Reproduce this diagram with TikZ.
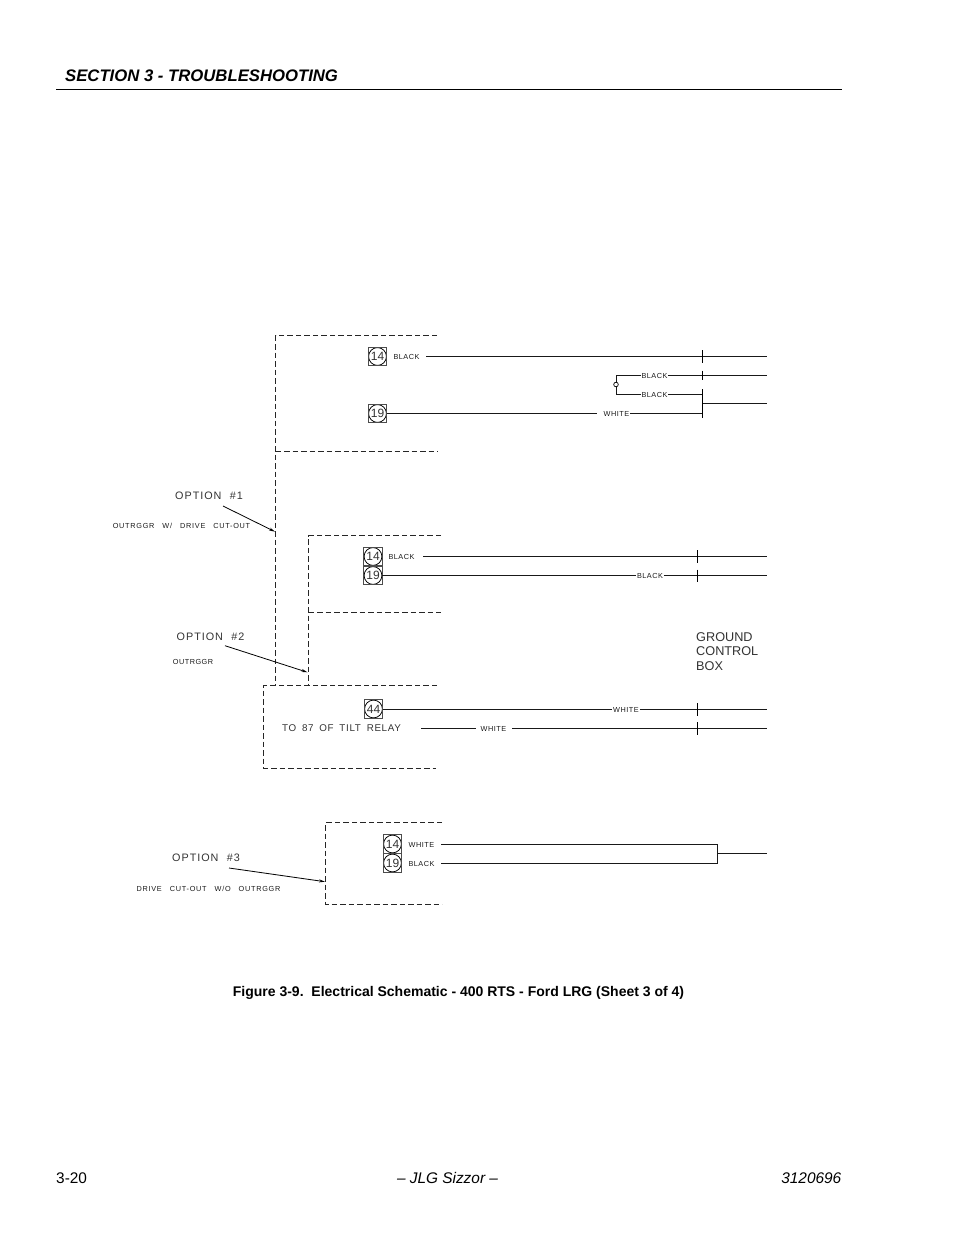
\documentclass[tikz,border=0pt]{standalone}
\usepackage{fontspec}
\setmainfont{Liberation Sans}
\newfontfamily\cadfont[LetterSpace=7,WordSpace=2.4]{Liberation Sans}
\newfontfamily\longfont[LetterSpace=10,WordSpace=2.9]{Liberation Sans}
\newfontfamily\optfont[LetterSpace=9,WordSpace=2.1]{Liberation Sans}
\newfontfamily\relfont[LetterSpace=7,WordSpace=1.7]{Liberation Sans}
\usetikzlibrary{arrows.meta}
\definecolor{wire}{gray}{0.1}
\definecolor{dash}{gray}{0.15}
\tikzset{
  x=1pt,y=-1pt,
  wireline/.style={draw=wire,line width=0.8pt},
  tickline/.style={draw=black,line width=0.8pt},
  dashbox/.style={draw=dash,line width=0.85pt,dash pattern=on 5.5pt off 3pt},
  leader/.style={draw=black,line width=0.8pt,-{Stealth[length=6pt,width=3pt]}},
  tiny/.style={inner sep=0pt,outer sep=1pt,font=\cadfont\fontsize{7.3}{8}\selectfont,text=black!90},
  longlabel/.style={inner sep=0pt,font=\longfont\fontsize{7.3}{8}\selectfont,text=black!90},
  optlabel/.style={inner sep=0pt,font=\optfont\fontsize{10.8}{11}\selectfont,text=black!80},
  rellabel/.style={inner sep=0pt,font=\relfont\fontsize{9.8}{11}\selectfont,text=black!80},
  termbox/.style={draw=black!70,line width=0.7pt,minimum size=18.5pt,inner sep=0pt,outer sep=0pt,
    path picture={\draw[black,line width=0.75pt] (path picture bounding box.center) circle (8.9pt);},
    font=\fontsize{12}{13}\selectfont,text=black!80},
  hdr/.style={inner sep=0pt,anchor=base west},
}
\begin{document}
\begin{tikzpicture}
\useasboundingbox (0,0) rectangle (954,1235);
% page furniture
\node[hdr,font=\bfseries\itshape\fontsize{16.7}{18}\selectfont] (sec) at (65,81.3) {SECTION 3 - TROUBLESHOOTING};
\coordinate (ruleL) at (56,89.5); \coordinate (ruleR) at (842,89.5);
\draw[black,line width=0.9pt] (ruleL) -- (ruleR);
\node[inner sep=0pt,font=\bfseries\fontsize{14}{16}\selectfont] (cap) at (458.5,992.5) {Figure 3-9.\ \ Electrical Schematic - 400 RTS - Ford LRG (Sheet 3 of 4)};
\node[hdr,font=\fontsize{15.4}{17}\selectfont] (pg) at (56,1183.5) {3-20};
\node[inner sep=0pt,anchor=base,font=\itshape\fontsize{15.4}{17}\selectfont] (mid) at (447.5,1183.5) {-- JLG Sizzor --};
\node[inner sep=0pt,anchor=base east,font=\itshape\fontsize{15.4}{17}\selectfont] (doc) at (841.5,1183.5) {3120696};

% dashed outlines
\draw[dashbox] (437,335.5) -- (275.5,335.5) -- (275.5,685);
\draw[dashbox] (275.5,451.5) -- (438,451.5);
\draw[dashbox] (441,535.5) -- (308.5,535.5) -- (308.5,685);
\draw[dashbox] (308.5,612.5) -- (441,612.5);
\draw[dashbox] (437,685.5) -- (263.5,685.5) -- (263.5,768) -- (436,768);
\draw[dashbox] (442,822.5) -- (325.5,822.5) -- (325.5,904) -- (442,904);

% terminals
\node[termbox] (a14) at (377.5,356.5) {14};
\node[termbox] (a19) at (377.5,413.5) {19};
\node[termbox] (b14) at (373,556.5) {14};
\node[termbox] (b19) at (373,575.5) {19};
\node[termbox] (c44) at (373.5,709) {44};
\node[termbox] (d14) at (392.5,844) {14};
\node[termbox] (d19) at (392.5,863) {19};

% wire labels
\node[tiny] (la) at (406.5,357) {BLACK};
\node[tiny] (lb) at (654.5,376) {BLACK};
\node[tiny] (lc) at (654.5,395) {BLACK};
\node[tiny] (ld) at (616.5,414) {WHITE};
\node[tiny] (le) at (401.5,557) {BLACK};
\node[tiny] (lf) at (650,576) {BLACK};
\node[tiny] (lg) at (626,709.5) {WHITE};
\node[tiny] (lh) at (493.5,729) {WHITE};
\node[tiny] (li) at (421.5,844.5) {WHITE};
\node[tiny] (lj) at (421.5,863.5) {BLACK};

% end points
\coordinate (e1) at (767,356); \coordinate (e2) at (767,375.5); \coordinate (e3) at (767,403.5);
\coordinate (e4) at (767,556.5); \coordinate (e5) at (767,575.5);
\coordinate (e6) at (767,709); \coordinate (e7) at (767,728.5); \coordinate (e8) at (767,853.5);
\coordinate (s1) at (426,356); \coordinate (s2) at (423,556.5); \coordinate (s3) at (421,728.5);
\coordinate (bus) at (702.5,403.5);
\coordinate (k1) at (702.5,394.5); \coordinate (k2) at (702.5,413.5);
\coordinate (bL1) at (616,375.5); \coordinate (bL2) at (616,394.5);
\coordinate (g1) at (597,413.5); \coordinate (g2) at (476,728.5); \coordinate (g3) at (512,728.5);
\coordinate (r1) at (717.5,844); \coordinate (r2) at (717.5,863); \coordinate (r3) at (717.5,853.5);
\coordinate (di) at (441,844); \coordinate (dj) at (441,863);

% first group wires
\draw[wireline] (s1) -- (e1);
\draw[wireline] (a19.east) -- (g1);
\draw[wireline] (k2 -| ld.east) -- (k2);
\draw[wireline] (k1 -| lc.east) -- (k1);
\draw[wireline] (e2 -| lb.east) -- (e2);
\draw[wireline] (bus) -- (e3);
\draw[tickline] (702.5,389) -- (702.5,418);
\draw[tickline] (702.5,350) -- (702.5,362.5);
\draw[tickline] (702.5,370.5) -- (702.5,380);
\draw[wireline] (bL1 -| lb.west) -- (bL1) -- (bL2) -- (bL2 -| lc.west);
\node[draw=black,fill=white,circle,line width=0.7pt,minimum size=4.6pt,inner sep=0pt] (oc) at (616,384.5) {};

% second group wires
\draw[wireline] (s2) -- (e4);
\draw[wireline] (b19.east) -- (e5 -| lf.west);
\draw[wireline] (e5 -| lf.east) -- (e5);
\draw[tickline] (697.5,550) -- (697.5,563);
\draw[tickline] (697.5,569.5) -- (697.5,582);

% tilt relay wires
\draw[wireline] (c44.east) -- (c44.east -| lg.west);
\draw[wireline] (e6 -| lg.east) -- (e6);
\draw[wireline] (s3) -- (g2);
\draw[wireline] (g3) -- (e7);
\draw[tickline] (697.5,703) -- (697.5,715.5);
\draw[tickline] (697.5,722) -- (697.5,734.5);

% option 3 wires
\draw[wireline] (di) -- (r1) -- (r2) -- (dj);
\draw[wireline] (r3) -- (e8);

% callouts
\node[optlabel] (o1) at (209,495.5) {OPTION \#1};
\node[longlabel] (o1b) at (181.5,525.5) {OUTRGGR W/ DRIVE CUT-OUT};
\node[optlabel] (o2) at (210.5,637) {OPTION \#2};
\node[tiny] (o2b) at (193,662) {OUTRGGR};
\node[optlabel] (o3) at (206,858) {OPTION \#3};
\node[longlabel] (o3b) at (208.5,889) {DRIVE CUT-OUT W/O OUTRGGR};
\node[rellabel] (rel) at (341.5,728) {TO 87 OF TILT RELAY};
\coordinate (t1s) at (223,506); \coordinate (t1e) at (275,531.7);
\coordinate (t2s) at (225,645.7); \coordinate (t2e) at (307.5,672.3);
\coordinate (t3s) at (229,868); \coordinate (t3e) at (325,881.7);
\draw[leader] (t1s) -- (t1e);
\draw[leader] (t2s) -- (t2e);
\draw[leader] (t3s) -- (t3e);
\node[inner sep=0pt,anchor=north west,align=left,text=black!80,font=\fontsize{12.7}{14.5}\selectfont] (gcb) at (696,632) {GROUND\\CONTROL\\BOX};
\end{tikzpicture}
\end{document}
